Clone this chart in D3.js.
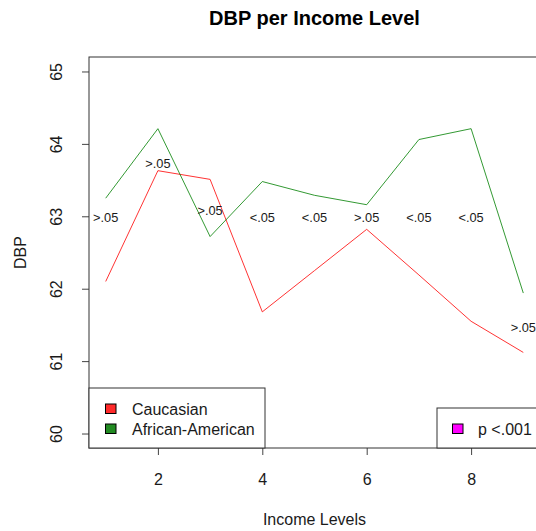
<!DOCTYPE html>
<html>
<head>
<meta charset="utf-8">
<script src="https://cdn.jsdelivr.net/npm/d3@7"></script>
<style>
  html, body { margin: 0; padding: 0; background: #fff; }
  svg { display: block; font-family: "Liberation Sans", Arial, sans-serif; }
</style>
</head>
<body>
<svg id="chart" width="536" height="531"></svg>
<script>
// Income levels on the x axis
const incomeLevels = [1, 2, 3, 4, 5, 6, 7, 8, 9];
// Mean diastolic blood pressure per group
const caucasianDBP = [62.10, 63.63, 63.51, 61.68, 62.25, 62.82, 62.19, 61.55, 61.12];
const africanAmericanDBP = [63.25, 64.21, 62.72, 63.48, 63.29, 63.16, 64.06, 64.21, 61.94];
// Significance notes per income level and their vertical placement
const pLabels = [">.05", ">.05", ">.05", "<.05", "<.05", ">.05", "<.05", "<.05", ">.05"];
const pLabelY = [62.98, 63.73, 63.08, 62.98, 62.98, 62.98, 62.98, 62.98, 61.47];
// Axis ticks
const xTicks = [2, 4, 6, 8];
const yTicks = [60, 61, 62, 63, 64, 65];
// Legend entries
const seriesNames = ["Caucasian", "African-American"];
const seriesColors = ["#ff2a2a", "#228b22"];
const lineColors = ["#ff0000", "#008000"];

const svg = d3.select("#chart");

// Plot region (R-style 4% padding around the data range)
const plotL = 89, plotR = 540, plotT = 57, plotB = 448;
const x = d3.scaleLinear().domain([0.68, 9.32]).range([plotL, plotR]);
const y = d3.scaleLinear().domain([59.8, 65.2]).range([plotB, plotT]);

const ink = "#1a1a1a";
const font = "Liberation Sans, Arial, sans-serif";

// Title
svg.append("text")
  .attr("x", (plotL + plotR) / 2).attr("y", 25)
  .attr("text-anchor", "middle")
  .attr("font-weight", "bold").attr("font-size", 20)
  .attr("fill", "#000")
  .text("DBP per Income Level");

// Axis titles
svg.append("text")
  .attr("x", (plotL + plotR) / 2).attr("y", 525)
  .attr("text-anchor", "middle").attr("font-size", 16).attr("fill", ink)
  .text("Income Levels");
svg.append("text")
  .attr("transform", `translate(26,${(plotT + plotB) / 2}) rotate(-90)`)
  .attr("text-anchor", "middle").attr("font-size", 16).attr("fill", ink)
  .text("DBP");

// Clipped plotting area
svg.append("clipPath").attr("id", "plotClip")
  .append("rect").attr("x", plotL).attr("y", plotT)
  .attr("width", plotR - plotL).attr("height", plotB - plotT);
const plot = svg.append("g").attr("clip-path", "url(#plotClip)");

const line = d3.line().x((d, i) => x(incomeLevels[i])).y(d => y(d));

[caucasianDBP, africanAmericanDBP].forEach((series, k) => {
  plot.append("path")
    .datum(series)
    .attr("d", line)
    .attr("fill", "none")
    .attr("stroke", lineColors[k])
    .attr("stroke-width", 1)
    .attr("opacity", 0.8);
});

// p-value annotations
plot.selectAll("text.p")
  .data(pLabels)
  .join("text")
  .attr("class", "p")
  .attr("x", (d, i) => x(incomeLevels[i]))
  .attr("y", (d, i) => y(pLabelY[i]))
  .attr("dy", "0.35em")
  .attr("text-anchor", "middle")
  .attr("font-size", 12.8)
  .attr("fill", ink)
  .text(d => d);

// Axes
const xAxis = d3.axisBottom(x).tickValues(xTicks).tickSize(7).tickFormat(d3.format("d"));
const gx = svg.append("g").attr("transform", `translate(0,${plotB})`).call(xAxis);
gx.select(".domain").remove();
gx.selectAll("line").attr("stroke", "#444");
gx.selectAll("text").attr("font-size", 16).attr("fill", ink)
  .attr("font-family", font)
  .attr("y", 36.5).attr("dy", null);

const yAxis = d3.axisLeft(y).tickValues(yTicks).tickSize(7).tickFormat(d3.format("d"));
const gy = svg.append("g").attr("transform", `translate(${plotL},0)`).call(yAxis);
gy.select(".domain").remove();
gy.selectAll("line").attr("stroke", "#444");
gy.selectAll("text")
  .attr("font-size", 16).attr("fill", ink)
  .attr("font-family", font)
  .attr("text-anchor", "middle")
  .attr("x", null)
  .attr("y", 0)
  .attr("dy", null)
  .attr("transform", "translate(-27,0) rotate(-90)");

// Plot frame
svg.append("rect")
  .attr("x", plotL).attr("y", plotT)
  .attr("width", plotR - plotL).attr("height", plotB - plotT)
  .attr("fill", "none").attr("stroke", "#333").attr("stroke-width", 1);

// Series legend
const lg = svg.append("g");
lg.append("rect").attr("x", 89).attr("y", 388).attr("width", 176).attr("height", 60)
  .attr("fill", "#fff").attr("stroke", "#333");
seriesNames.forEach((name, i) => {
  const cy = 409 + i * 20;
  lg.append("rect").attr("x", 105.5).attr("y", cy - 5).attr("width", 10.5).attr("height", 9.5)
    .attr("fill", seriesColors[i]).attr("stroke", "#000");
  lg.append("text").attr("x", 132).attr("y", cy).attr("dy", "0.35em")
    .attr("font-size", 16).attr("fill", ink).text(name);
});

// Significance legend
const lg2 = svg.append("g");
lg2.append("rect").attr("x", 437).attr("y", 408).attr("width", 110).attr("height", 40)
  .attr("fill", "#fff").attr("stroke", "#333");
lg2.append("rect").attr("x", 452.5).attr("y", 424).attr("width", 10.5).attr("height", 9.5)
  .attr("fill", "#ff00ff").attr("stroke", "#000");
lg2.append("text").attr("x", 478).attr("y", 429).attr("dy", "0.35em")
  .attr("font-size", 16).attr("fill", ink).text("p <.001");
</script>
</body>
</html>
